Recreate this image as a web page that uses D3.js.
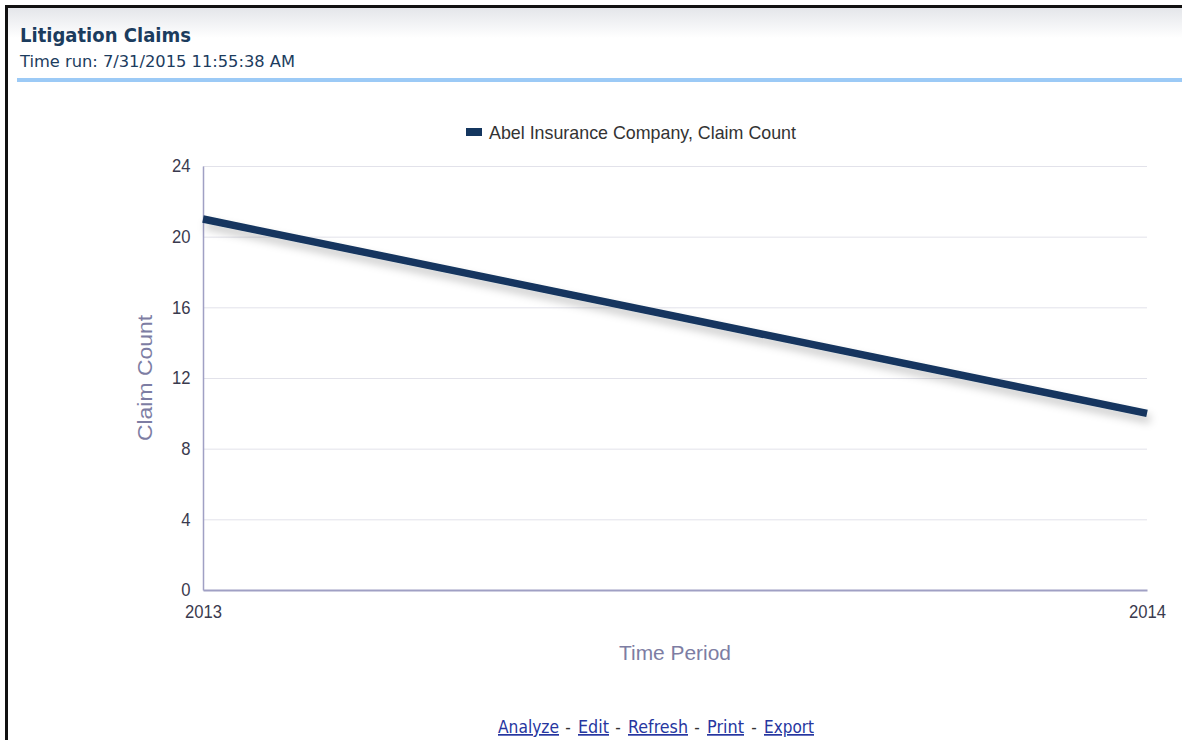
<!DOCTYPE html>
<html>
<head>
<meta charset="utf-8">
<script src="https://cdn.jsdelivr.net/npm/d3@7"></script>
<style>
  html, body { margin: 0; padding: 0; background: #fff; }
  svg { display: block; }
</style>
</head>
<body>
<svg id="chart" width="1182" height="740"></svg>
<script>
// Report data
const periods = ["2013", "2014"];
const claimCounts = [21, 10];
const yTicks = [0, 4, 8, 12, 16, 20, 24];
const seriesName = "Abel Insurance Company, Claim Count";
const reportTitle = "Litigation Claims";
const timeRun = "Time run: 7/31/2015 11:55:38 AM";
const links = ["Analyze", "Edit", "Refresh", "Print", "Export"];

const svg = d3.select("#chart");
const W = 1182, H = 740;
const sans = "'Liberation Sans', Arial, sans-serif";
const headFont = "'DejaVu Sans Condensed', Tahoma, sans-serif";
const condense = 0.9; // horizontal squeeze for the narrow chart labels

const defs = svg.append("defs");
const hg = defs.append("linearGradient").attr("id", "hdr").attr("x1", 0).attr("y1", 0).attr("x2", 0).attr("y2", 1);
hg.append("stop").attr("offset", 0).attr("stop-color", "#e4e6ea");
hg.append("stop").attr("offset", 1).attr("stop-color", "#ffffff");
const shadow = defs.append("filter").attr("id", "lineShadow")
  .attr("x", "-10%").attr("y", "-50%").attr("width", "120%").attr("height", "200%");
shadow.append("feDropShadow").attr("dx", 3).attr("dy", 6).attr("stdDeviation", 4)
  .attr("flood-color", "#000").attr("flood-opacity", 0.22);

// Page frame and header band
svg.append("rect").attr("x", 0).attr("y", 0).attr("width", W).attr("height", H).attr("fill", "#fff");
svg.append("rect").attr("x", 8).attr("y", 8).attr("width", W - 8).attr("height", 30).attr("fill", "url(#hdr)");
svg.append("line").attr("x1", 6).attr("x2", W).attr("y1", 6.5).attr("y2", 6.5).attr("stroke", "#111").attr("stroke-width", 3);
svg.append("line").attr("x1", 6.5).attr("x2", 6.5).attr("y1", 5).attr("y2", H).attr("stroke", "#111").attr("stroke-width", 3);

svg.append("text").attr("x", 20).attr("y", 42).text(reportTitle)
  .attr("font-family", headFont).attr("font-weight", "bold").attr("font-size", 19)
  .attr("textLength", 171).attr("lengthAdjust", "spacingAndGlyphs").attr("fill", "#1c3c5e");
svg.append("text").attr("x", 20).attr("y", 67).text(timeRun)
  .attr("font-family", headFont).attr("font-size", 16)
  .attr("textLength", 275).attr("lengthAdjust", "spacingAndGlyphs").attr("fill", "#1c3c5e");
svg.append("rect").attr("x", 17).attr("y", 78).attr("width", W - 17).attr("height", 4).attr("fill", "#9ccaf6");

// Plot area
const margin = { left: 203, right: W - 1147, top: 166, bottom: H - 590 };
const x = d3.scalePoint().domain(periods).range([margin.left, W - margin.right]);
const y = d3.scaleLinear().domain([0, 24]).range([H - margin.bottom, margin.top]);

// Grid lines
svg.append("g").selectAll("line").data(yTicks.filter(d => d > 0)).join("line")
  .attr("x1", margin.left).attr("x2", W - margin.right)
  .attr("y1", d => y(d) + 0.5).attr("y2", d => y(d) + 0.5)
  .attr("stroke", "#e2e2ea").attr("stroke-width", 1);

// Y axis
const yAxis = svg.append("g").attr("transform", `translate(${margin.left},0)`)
  .call(d3.axisLeft(y).tickValues(yTicks).tickSize(0).tickPadding(14));
yAxis.select(".domain").attr("stroke", "#a0a0c4").attr("stroke-width", 1.5);
yAxis.selectAll("text").attr("font-family", sans).attr("font-size", 18.5).attr("fill", "#3a3a4e")
  .attr("transform", `scale(${condense},1)`);

// X axis
const xAxis = svg.append("g").attr("transform", `translate(0,${H - margin.bottom})`)
  .call(d3.axisBottom(x).tickSize(0).tickPadding(15));
xAxis.select(".domain").attr("stroke", "#a0a0c4").attr("stroke-width", 2);
xAxis.selectAll("text").attr("font-family", sans).attr("font-size", 18.5).attr("fill", "#3a3a4e")
  .attr("transform", `scale(${condense},1)`);

// Axis titles
svg.append("text").attr("transform", `translate(152,${y(12)}) rotate(-90)`)
  .attr("text-anchor", "middle").attr("font-family", sans)
  .attr("font-size", 20).attr("textLength", 126).attr("lengthAdjust", "spacingAndGlyphs")
  .attr("fill", "#7d7da3").text("Claim Count");
svg.append("text").attr("x", (margin.left + W - margin.right) / 2).attr("y", 660)
  .attr("text-anchor", "middle").attr("font-family", sans)
  .attr("font-size", 20).attr("textLength", 112).attr("lengthAdjust", "spacingAndGlyphs")
  .attr("fill", "#7d7da3").text("Time Period");

// Series line
const line = d3.line().x((d, i) => x(periods[i])).y(d => y(d));
svg.append("path").datum(claimCounts).attr("d", line)
  .attr("fill", "none").attr("stroke", "#14365f").attr("stroke-width", 7.5)
  .attr("filter", "url(#lineShadow)");

// Legend
const legend = svg.append("g").attr("transform", "translate(466,132)");
legend.append("rect").attr("x", 0).attr("y", -4).attr("width", 16).attr("height", 8).attr("fill", "#14365f");
legend.append("text").attr("x", 23).attr("y", 7).text(seriesName)
  .attr("font-family", sans).attr("font-size", 19)
  .attr("textLength", 307).attr("lengthAdjust", "spacingAndGlyphs").attr("fill", "#333");

// Footer links
const linkG = svg.append("g").attr("font-family", headFont).attr("font-size", 17);
const linkX = [498, 578, 628, 707, 764];
const linkW = [61, 31, 60, 37, 50];
links.forEach((t, i) => {
  if (i > 0) {
    linkG.append("text").attr("x", linkX[i] - 10).attr("y", 733).text("-")
      .attr("text-anchor", "middle").attr("fill", "#333");
  }
  linkG.append("text").attr("x", linkX[i]).attr("y", 733).text(t)
    .attr("textLength", linkW[i]).attr("lengthAdjust", "spacingAndGlyphs")
    .attr("fill", "#2636a0").attr("text-decoration", "underline");
});
</script>
</body>
</html>
